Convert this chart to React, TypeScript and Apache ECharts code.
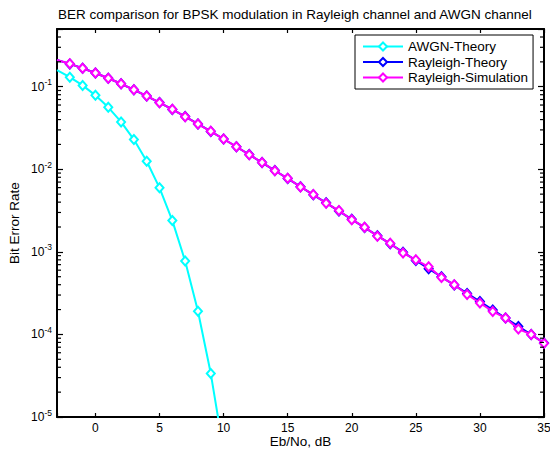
import React, { useEffect, useRef } from "react";
import * as echarts from "echarts";

const awgnX = [-3, -2, -1, 0, 1, 2, 3, 4, 5, 6, 7, 8, 9, 10];
const awgnTheory = [0.1585, 0.1306, 0.1038, 0.0786, 0.0563, 0.0375, 0.0229, 0.0125, 0.00596, 0.00239, 7.73e-4, 1.91e-4, 3.36e-5, 3.87e-6];

const rayX = [-3, -2, -1, 0, 1, 2, 3, 4, 5, 6, 7, 8, 9, 10, 11, 12, 13, 14, 15, 16, 17, 18, 19, 20, 21, 22, 23, 24, 25, 26, 27, 28, 29, 30, 31, 32, 33, 34, 35];
const rayTheory = [0.2111, 0.189, 0.1673, 0.1464, 0.1267, 0.1085, 0.0919, 0.0771, 0.0642, 0.053, 0.0435, 0.03546, 0.02878, 0.02327, 0.01874, 0.01506, 0.01207, 0.00966, 0.00772, 0.00616, 0.00491, 0.00392, 0.00312, 0.00248, 0.00197, 0.00157, 0.00125, 9.91e-4, 7.88e-4, 6.26e-4, 4.98e-4, 3.96e-4, 3.14e-4, 2.5e-4, 1.98e-4, 1.58e-4, 1.25e-4, 9.95e-5, 7.9e-5];
const raySim = [0.2108, 0.1893, 0.167, 0.1466, 0.1265, 0.1087, 0.0917, 0.0773, 0.064, 0.0532, 0.0434, 0.0353, 0.02885, 0.0232, 0.0188, 0.015, 0.01212, 0.0096, 0.00778, 0.00612, 0.00495, 0.00388, 0.00316, 0.00245, 0.00199, 0.00155, 0.00127, 9.7e-4, 8.0e-4, 6.6e-4, 4.9e-4, 4.0e-4, 3.05e-4, 2.4e-4, 1.9e-4, 1.58e-4, 1.16e-4, 1.0e-4, 7.8e-5];

const minorTickValues = [
  2e-5, 3e-5, 4e-5, 5e-5, 6e-5, 7e-5, 8e-5, 9e-5,
  2e-4, 3e-4, 4e-4, 5e-4, 6e-4, 7e-4, 8e-4, 9e-4,
  2e-3, 3e-3, 4e-3, 5e-3, 6e-3, 7e-3, 8e-3, 9e-3,
  2e-2, 3e-2, 4e-2, 5e-2, 6e-2, 7e-2, 8e-2, 9e-2,
  0.2, 0.3, 0.4,
];

const TITLE = "BER comparison for BPSK modulation in Rayleigh channel and AWGN channel";
const FONT = "Liberation Sans, Arial, sans-serif";

function toData(xs: number[], ys: number[]) {
  return xs.map((x, i) => (i === 0 ? { value: [x, ys[i]], symbol: "none" } : [x, ys[i]]));
}

export default function App() {
  const ref = useRef<HTMLDivElement>(null);
  useEffect(() => {
    if (!ref.current) return;
    const chart = echarts.init(ref.current, undefined, { renderer: "svg" });
    const yLabelFmt = (v: number) => {
      const l = Math.log10(v);
      const e = Math.round(l);
      if (Math.abs(l - e) > 1e-6) return "";
      return `{b|10}{s|${e}}`;
    };
    const axisLine = () => ({ show: true, onZero: false, lineStyle: { color: "#000", width: 2 } });
    const tick = (len: number) => ({ show: true, inside: true, length: len, lineStyle: { color: "#000", width: 1.2 } });
    const lineSeries = (name: string, color: string, data: any[], z: number) => ({
      name,
      type: "line",
      data,
      z,
      symbol: "emptyDiamond",
      symbolSize: [8, 9],
      lineStyle: { color, width: 2 },
      itemStyle: { color, borderColor: color, borderWidth: 1.5 },
      clip: true,
    });
    chart.setOption({
      animation: false,
      backgroundColor: "#fff",
      title: {
        text: TITLE,
        left: 58,
        top: 7,
        padding: 0,
        textStyle: { fontFamily: FONT, fontSize: 13.5, fontWeight: "normal", color: "#000" },
      },
      legend: {
        orient: "vertical",
        left: 355,
        top: 35,
        padding: [4, 5, 4, 7],
        itemWidth: 40,
        itemHeight: 10,
        itemGap: 0.5,
        backgroundColor: "#fff",
        borderColor: "#000",
        borderWidth: 1,
        data: ["AWGN-Theory", "Rayleigh-Theory", "Rayleigh-Simulation"],
        textStyle: { fontFamily: FONT, fontSize: 13.5, lineHeight: 15, color: "#000" },
      },
      grid: { left: 57, right: 6, top: 29, bottom: 32, containLabel: false, outerBoundsMode: "none" },
      xAxis: [
        {
          type: "value",
          min: -3,
          max: 35,
          minInterval: 5,
          maxInterval: 5,
          name: "Eb/No, dB",
          nameLocation: "middle",
          nameGap: 17,
          nameMoveOverlap: false,
          nameTextStyle: { fontFamily: FONT, fontSize: 13.5, color: "#000" },
          axisLine: axisLine(),
          axisTick: tick(4),
          axisLabel: {
            fontFamily: FONT,
            fontSize: 12,
            color: "#000",
            margin: 5,
            formatter: (v: number) => (v % 5 === 0 ? String(v) : ""),
          },
          splitLine: { show: false },
        },
        {
          type: "value",
          position: "top",
          min: -3,
          max: 35,
          minInterval: 5,
          maxInterval: 5,
          axisLine: axisLine(),
          axisTick: tick(4),
          axisLabel: { show: false },
          splitLine: { show: false },
        },
      ],
      yAxis: [
        {
          type: "log",
          min: 1e-5,
          max: 0.5,
          logBase: 10,
          name: "Bit Error Rate",
          nameLocation: "middle",
          nameGap: 36,
          nameMoveOverlap: false,
          nameTextStyle: { fontFamily: FONT, fontSize: 13.5, color: "#000" },
          axisLine: axisLine(),
          axisTick: tick(6),
          axisLabel: {
            margin: 5,
            formatter: yLabelFmt,
            rich: {
              b: { fontFamily: FONT, fontSize: 12, color: "#000", lineHeight: 18 },
              s: { fontFamily: FONT, fontSize: 8.5, color: "#000", verticalAlign: "top" },
            },
          },
          splitLine: { show: false },
        },
        {
          type: "log",
          position: "right",
          min: 1e-5,
          max: 0.5,
          logBase: 10,
          axisLine: axisLine(),
          axisTick: tick(6),
          axisLabel: { show: false },
          splitLine: { show: false },
        },
      ],
      series: [
        lineSeries("AWGN-Theory", "#00FFFF", toData(awgnX, awgnTheory), 3),
        lineSeries("Rayleigh-Theory", "#0000FF", toData(rayX, rayTheory), 4),
        lineSeries("Rayleigh-Simulation", "#FF00FF", toData(rayX, raySim), 5),
      ],
    });

    // log minor ticks (2..9 per decade) on both vertical edges, placed through the y scale
    const grid = (chart as any).getModel().getComponent("grid", 0).coordinateSystem.getRect();
    const st = { stroke: "#000", lineWidth: 1.2 };
    const els: any[] = [];
    minorTickValues.forEach((v) => {
      const y = chart.convertToPixel({ yAxisIndex: 0 }, v) as number;
      els.push({ type: "line", shape: { x1: grid.x, y1: y, x2: grid.x + 4, y2: y }, style: st, z: 50, silent: true });
      els.push({ type: "line", shape: { x1: grid.x + grid.width - 4, y1: y, x2: grid.x + grid.width, y2: y }, style: st, z: 50, silent: true });
    });
    chart.setOption({ graphic: { elements: els } });
    return () => chart.dispose();
  }, []);
  return <div ref={ref} style={{ position: "absolute", left: 0, top: 0, width: 550, height: 449 }} />;
}
